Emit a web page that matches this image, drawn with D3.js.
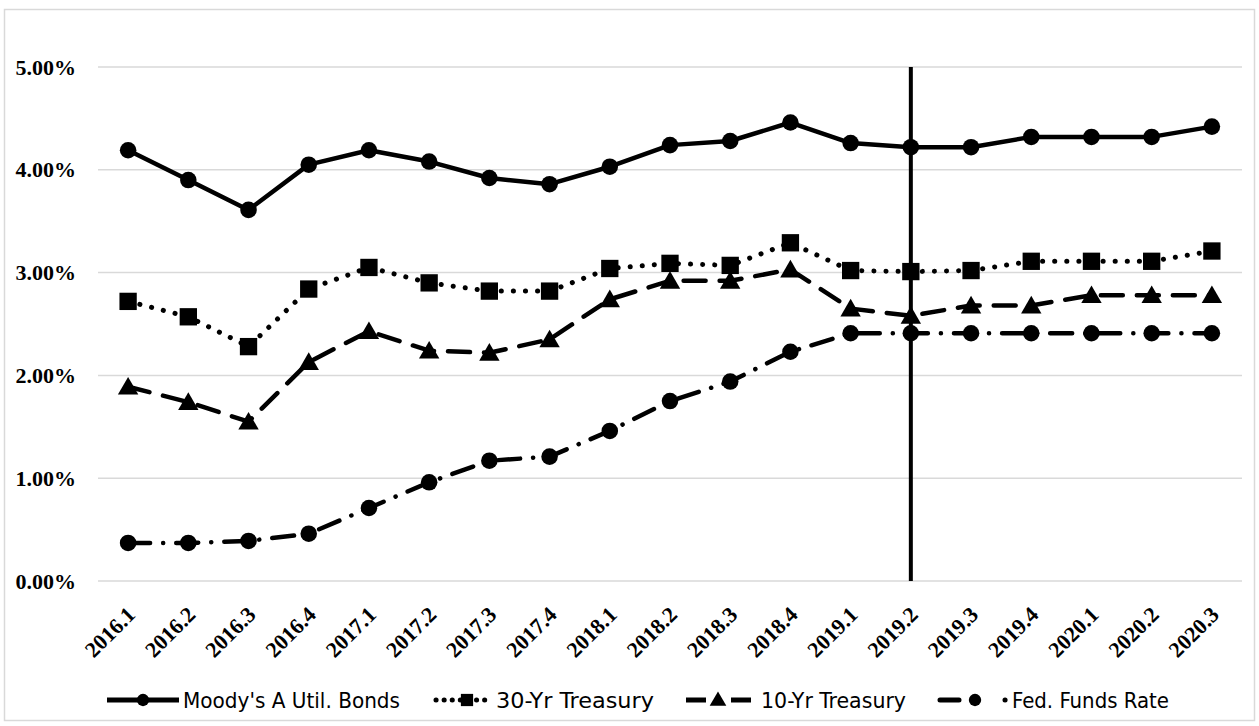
<!DOCTYPE html>
<html><head><meta charset="utf-8">
<script src="https://cdn.jsdelivr.net/npm/d3@7"></script>
<style>body{margin:0;background:#fff}svg{display:block}</style>
</head><body>
<svg id="c" width="1259" height="726"></svg>
<script>
const categories = ["2016.1","2016.2","2016.3","2016.4","2017.1","2017.2","2017.3","2017.4","2018.1","2018.2","2018.3","2018.4","2019.1","2019.2","2019.3","2019.4","2020.1","2020.2","2020.3"];
const moodys   = [4.19,3.90,3.61,4.05,4.19,4.08,3.92,3.86,4.03,4.24,4.28,4.46,4.26,4.22,4.22,4.32,4.32,4.32,4.42];
const tsy30    = [2.72,2.57,2.28,2.84,3.05,2.90,2.82,2.82,3.04,3.09,3.07,3.29,3.02,3.01,3.02,3.11,3.11,3.11,3.21];
const tsy10    = [1.89,1.74,1.55,2.13,2.43,2.24,2.22,2.35,2.74,2.92,2.92,3.03,2.65,2.58,2.68,2.68,2.78,2.78,2.78];
const fedFunds = [0.37,0.37,0.39,0.46,0.71,0.96,1.17,1.21,1.46,1.75,1.94,2.23,2.41,2.41,2.41,2.41,2.41,2.41,2.41];
const yTicks = [0,1,2,3,4,5];
const seriesNames = ["Moody's A Util. Bonds","30-Yr Treasury","10-Yr Treasury","Fed. Funds Rate"];
const markerLine = "2019.2";

const svg = d3.select("#c");
const W = 1259, H = 726;
const m = {left: 98, right: 17, top: 67, bottom: 145};

svg.append("rect").attr("x",4.5).attr("y",9.5).attr("width",1250).attr("height",711)
  .attr("fill","#fff").attr("stroke","#d9d9d9").attr("stroke-width",1.5);

const x = d3.scalePoint().domain(categories).range([m.left, W - m.right]).padding(0.5);
const y = d3.scaleLinear().domain([0,5]).range([H - m.bottom, m.top]);

// gridlines
svg.append("g").selectAll("line").data(yTicks).join("line")
  .attr("x1", m.left).attr("x2", W - m.right)
  .attr("y1", d => y(d)).attr("y2", d => y(d))
  .attr("stroke", "#d9d9d9").attr("stroke-width", 1.5);

// y axis labels
const yAxis = d3.axisLeft(y).tickValues(yTicks).tickSize(0).tickPadding(0)
  .tickFormat(d => d3.format(".2f")(d) + "%");
const gy = svg.append("g").attr("transform", `translate(76,0)`).call(yAxis);
gy.select(".domain").remove();
gy.selectAll("text").attr("font-family","'Liberation Serif','Times New Roman',serif")
  .attr("font-weight","bold").attr("font-size","22px").attr("fill","#000").attr("dy","0.32em");

// x axis labels
const xAxis = d3.axisBottom(x).tickSize(0).tickPadding(0);
const gx = svg.append("g").attr("transform", `translate(0,${H - m.bottom})`).call(xAxis);
gx.select(".domain").remove();
gx.selectAll("text").attr("font-family","'Liberation Serif','Times New Roman',serif")
  .attr("font-weight","bold").attr("font-size","22px").attr("fill","#000")
  .attr("text-anchor","end").attr("dy","0")
  .attr("transform","translate(8,35) rotate(-45)");

// vertical marker line
svg.append("line").attr("x1", x(markerLine)).attr("x2", x(markerLine))
  .attr("y1", y(5)).attr("y2", y(0)).attr("stroke","#000").attr("stroke-width",4);

const series = [
  {name: seriesNames[0], values: moodys,   dash: null,             width: 4.5, marker: "circle"},
  {name: seriesNames[1], values: tsy30,    dash: "0.1 12",         width: 5,   marker: "square"},
  {name: seriesNames[2], values: tsy10,    dash: "22 14",          width: 4.5, marker: "triangle"},
  {name: seriesNames[3], values: fedFunds, dash: "22 13 0.1 13",   width: 4.5, marker: "circle"}
];

const symbolMap = {
  circle: d3.symbol().type(d3.symbolCircle).size(215),
  square: d3.symbol().type(d3.symbolSquare).size(300),
  triangle: d3.symbol().type(d3.symbolTriangle).size(180)
};

const line = d3.line().x((d,i) => x(categories[i])).y(d => y(d));

series.forEach(s => {
  svg.append("path").datum(s.values).attr("d", line)
    .attr("fill","none").attr("stroke","#000").attr("stroke-width", s.width)
    .attr("stroke-linecap","round").attr("stroke-linejoin","round")
    .attr("stroke-dasharray", s.dash);
  svg.append("g").selectAll("path").data(s.values).join("path")
    .attr("d", symbolMap[s.marker])
    .attr("transform", (d,i) => `translate(${x(categories[i])},${y(d) + (s.marker === "triangle" ? 2 : 0)})`)
    .attr("fill","#000");
});

// legend
const legendY = 700;
const legendItems = [
  {x0: 107, x1: 179, mx: 143, tx: 183, tw: 217, dash: null},
  {x0: 436, x1: 492, mx: 467, tx: 496, tw: 158, dash: "0.1 8"},
  {x0: 686, x1: 751, mx: 718, tx: 761, tw: 145, dash: "20 25"},
  {x0: 940, x1: 1010, mx: 975, tx: 1012, tw: 157, dash: "19 46 0.1 20"}
];
series.forEach((s, i) => {
  const L = legendItems[i];
  const g = svg.append("g");
  g.append("line").attr("x1", L.x0).attr("x2", L.x1).attr("y1", legendY).attr("y2", legendY)
    .attr("stroke","#000").attr("stroke-width", 5)
    .attr("stroke-linecap", i === 1 || i === 3 ? "round" : "butt")
    .attr("stroke-dasharray", L.dash);
  const sym = s.marker === "circle" ? d3.symbolCircle : s.marker === "square" ? d3.symbolSquare : d3.symbolTriangle;
  g.append("path").attr("d", d3.symbol().type(sym).size(s.marker === "square" ? 150 : 120))
    .attr("transform", `translate(${L.mx},${legendY + (s.marker === "triangle" ? 1 : 0)})`).attr("fill","#000");
  g.append("text").attr("x", L.tx).attr("y", legendY).attr("dy","0.36em")
    .attr("font-family","'Liberation Sans Narrow','DejaVu Sans Condensed','Liberation Sans',sans-serif")
    .attr("font-size","21px").attr("fill","#000")
    .attr("textLength", L.tw).attr("lengthAdjust","spacingAndGlyphs")
    .text(s.name);
});
</script>
</body></html>
